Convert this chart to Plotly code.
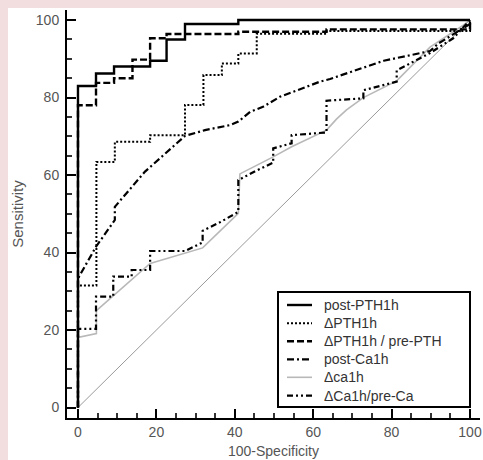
import plotly.graph_objects as go

# ---- data (100-Specificity, Sensitivity) ----
post_pth_x = [0, 0, 4.6, 9.2, 18.4, 22.6, 27.3, 40.9, 100]
post_pth_y = [0, 83, 86.2, 88, 89.5, 95, 99, 100, 100]

d_pth_x = [0, 0, 4.7, 9.4, 18.4, 27.3, 32, 36.7, 40.9, 45.6, 63.4, 100]
d_pth_y = [0, 31.5, 63.4, 68.6, 70.3, 78.1, 85.8, 88.8, 91.4, 96.5, 97.2, 100]

ratio_pth_x = [0, 0, 4.6, 9.2, 13.9, 18.4, 22.6, 40.9, 63.4, 100]
ratio_pth_y = [0, 78, 83.8, 85, 89.8, 95.3, 96.4, 97, 97.6, 100]

post_ca_x = [0, 0, 4.6, 9.4, 9.4, 17.1, 27.3, 32.4, 38.8, 40.9, 43.9, 47.2, 51.5, 61.7, 64.3, 78, 89.8, 92, 100, 100]
post_ca_y = [0, 33.3, 41.5, 48.4, 51.8, 60.9, 70.1, 71.6, 72.9, 73.8, 76.3, 77.6, 80.2, 84.1, 84.8, 89.5, 92, 94, 99, 100]

d_ca_x = [0, 0, 4.7, 4.7, 18.4, 31.8, 40.9, 41.3, 49.8, 54.5, 63.4, 66, 68.5, 72.8, 81.3, 89.8, 98.3, 100]
d_ca_y = [0, 18.1, 19.1, 25, 37.2, 41.2, 50.1, 60.3, 64.7, 67.3, 71.6, 74.5, 76.8, 80, 84.3, 93, 98.7, 100]

ratio_ca_x = [0, 0, 4.6, 4.6, 9.0, 9.0, 13.7, 13.7, 18.4, 18.4, 27.3, 31.8, 31.8, 36.2, 40.9, 40.9, 45.2, 49.8, 49.8,
              54.5, 54.5, 63.4, 63.4, 72.8, 72.8, 81.3, 81.3, 89.8, 95.7, 100]
ratio_ca_y = [0, 20.3, 20.3, 28.6, 28.6, 33.8, 33.8, 35.5, 35.5, 40.4, 40.4, 42.6, 45.6, 47.8, 50.5, 58.7, 61, 63.2, 66.9,
              68.2, 70.3, 71, 79.2, 79.8, 81.9, 84.1, 87, 91.5, 95.3, 100]

ref_x = [0, 100]
ref_y = [0, 100]

tick_vals = [0, 20, 40, 60, 80, 100]

series_names = ["post-PTH1h", "ΔPTH1h", "ΔPTH1h / pre-PTH", "post-Ca1h", "Δca1h", "ΔCa1h/pre-Ca"]

# styles per series (same order as names)
styles = [
    dict(color="black", width=2.4, dash="solid"),
    dict(color="black", width=2, dash="2px,2px"),
    dict(color="black", width=2.4, dash="7px,3px"),
    dict(color="black", width=2.2, dash="7px,3px,2px,3px"),
    dict(color="#b8b8b8", width=1.6, dash="solid"),
    dict(color="black", width=2.2, dash="6px,3px,2px,3px,2px,3px"),
]
series_xy = [
    (post_pth_x, post_pth_y, "hv"),
    (d_pth_x, d_pth_y, "hv"),
    (ratio_pth_x, ratio_pth_y, "hv"),
    (post_ca_x, post_ca_y, "linear"),
    (d_ca_x, d_ca_y, "linear"),
    (ratio_ca_x, ratio_ca_y, "linear"),
]

fig = go.Figure()
fig.add_trace(go.Scatter(x=ref_x, y=ref_y, mode="lines", showlegend=False,
                         line=dict(color="#9a9a9a", width=1), hoverinfo="skip"))

draw_order = [4, 5, 3, 1, 2, 0]
for i in draw_order:
    xs, ys, shape = series_xy[i]
    fig.add_trace(go.Scatter(x=xs, y=ys, mode="lines", name=series_names[i], line_shape=shape,
                             line=styles[i], showlegend=False))

# ---- layout geometry (figure pixels) ----
W, H = 475, 452
ML, MR, MT, MB = 59, 3, 2, 42
PW, PH = W - ML - MR, H - MT - MB


def px(fx):
    return (fx - ML) / PW


def py(fy):
    return (H - MB - fy) / PH


shapes = []
annotations = []
# legend box
shapes.append(dict(type="rect", xref="paper", yref="paper", x0=px(270), x1=px(462), y0=py(399), y1=py(284),
                   fillcolor="white", line=dict(color="black", width=2), layer="above"))
row_y = [297, 315.3, 333.3, 351.3, 369.3, 387.6]
for i, name in enumerate(series_names):
    st = styles[i]
    shapes.append(dict(type="line", xref="paper", yref="paper", x0=px(279), x1=px(304),
                       y0=py(row_y[i]), y1=py(row_y[i]),
                       line=dict(color=st["color"], width=st["width"], dash=st["dash"]), layer="above"))
    annotations.append(dict(xref="paper", yref="paper", x=px(313.5), y=py(row_y[i]), xanchor="left",
                            yanchor="middle", text=name, showarrow=False,
                            font=dict(family="Arial, Liberation Sans", size=14, color="#333333")))

axis_common = dict(
    showgrid=False, zeroline=False, showline=True, linecolor="black", linewidth=2,
    ticks="inside", ticklen=9, tickwidth=2, tickcolor="black",
    tickvals=tick_vals, ticktext=[str(v) for v in tick_vals],
    tickfont=dict(family="Arial, Liberation Sans", size=14, color="#555555"),
    minor=dict(dtick=5, tick0=0, ticks="inside", ticklen=5, tickwidth=1.5, tickcolor="#333333"),
    mirror=False,
)

fig.update_layout(
    width=W, height=H,
    margin=dict(l=ML, r=MR, t=MT, b=MB),
    paper_bgcolor="white",
    plot_bgcolor="white",
    font=dict(family="Arial, Liberation Sans", color="#444444"),
    xaxis=dict(range=[-2.8, 102.55], title=dict(text="100-Specificity", standoff=7,
               font=dict(size=14, color="#555555")), ticklabelstandoff=0, **axis_common),
    yaxis=dict(range=[-2.7, 102.6], title=dict(text="Sensitivity", standoff=9,
               font=dict(size=15, color="#555555")), ticklabelstandoff=3, **axis_common),
    shapes=shapes,
    annotations=annotations,
    showlegend=False,
)

fig.write_html("out.html",
               post_script="document.body.style.background='rgb(242,222,222)';"
                           "document.body.style.margin='8px 0 0 8px';"
                           "document.body.style.overflow='hidden';")
